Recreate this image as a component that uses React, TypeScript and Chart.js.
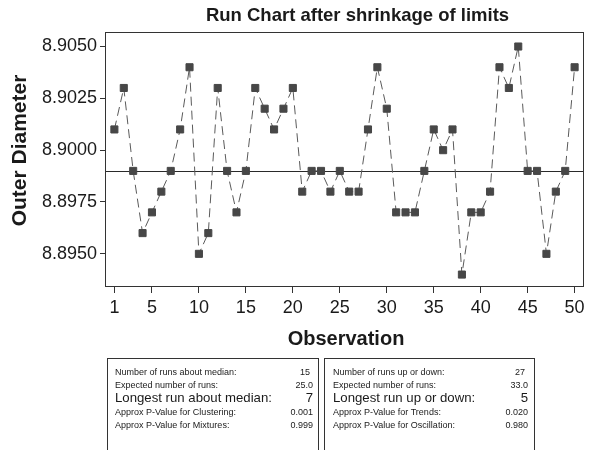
import React, { useEffect, useRef } from "react";
import { Chart, registerables } from "chart.js";

Chart.register(...registerables);

const TITLE = "Run Chart after shrinkage of limits";
const X_TITLE = "Observation";
const Y_TITLE = "Outer Diameter";

const diameters = [
  8.901, 8.903, 8.899, 8.896, 8.897, 8.898, 8.899, 8.901, 8.904, 8.895,
  8.896, 8.903, 8.899, 8.897, 8.899, 8.903, 8.902, 8.901, 8.902, 8.903,
  8.898, 8.899, 8.899, 8.898, 8.899, 8.898, 8.898, 8.901, 8.904, 8.902,
  8.897, 8.897, 8.897, 8.899, 8.901, 8.9, 8.901, 8.894, 8.897, 8.897,
  8.898, 8.904, 8.903, 8.905, 8.899, 8.899, 8.895, 8.898, 8.899, 8.904,
];
const MEDIAN = 8.899;

const xTicks = [1, 5, 10, 15, 20, 25, 30, 35, 40, 45, 50];
const yTicks = [8.895, 8.8975, 8.9, 8.9025, 8.905];
const X_MIN = 0;
const X_MAX = 51;
const Y_MIN = 8.8934;
const Y_MAX = 8.9057;

const leftLabels = [
  "Number of runs about median:",
  "Expected number of runs:",
  "Longest run about median:",
  "Approx P-Value for Clustering:",
  "Approx P-Value for Mixtures:",
];
const leftValues = ["15", "25.0", "7", "0.001", "0.999"];
const rightLabels = [
  "Number of runs up or down:",
  "Expected number of runs:",
  "Longest run up or down:",
  "Approx P-Value for Trends:",
  "Approx P-Value for Oscillation:",
];
const rightValues = ["27", "33.0", "5", "0.020", "0.980"];

const FONT = '"Liberation Sans", Arial, Helvetica, sans-serif';

const decorPlugin = {
  id: "decor",
  beforeDatasetsDraw(chart: any) {
    const { ctx, chartArea: a, scales } = chart;
    const y = Math.round(scales.y.getPixelForValue(MEDIAN)) + 0.5;
    ctx.save();
    ctx.strokeStyle = "#2a2a2a";
    ctx.lineWidth = 1;
    ctx.setLineDash([]);
    ctx.beginPath();
    ctx.moveTo(a.left, y);
    ctx.lineTo(a.right, y);
    ctx.stroke();
    ctx.restore();
  },
  afterDraw(chart: any) {
    const { ctx, chartArea: a } = chart;
    ctx.save();
    ctx.strokeStyle = "#333";
    ctx.lineWidth = 1;
    ctx.setLineDash([]);
    ctx.strokeRect(a.left + 0.5, a.top + 0.5, a.right - a.left - 1, a.bottom - a.top - 1);

    ctx.fillStyle = "#1a1a1a";
    ctx.textBaseline = "alphabetic";
    ctx.textAlign = "center";
    ctx.font = `bold 18.5px ${FONT}`;
    ctx.fillText(TITLE, 357.5, 21);

    ctx.font = `bold 20px ${FONT}`;
    ctx.fillText(X_TITLE, 346, 345);

    ctx.translate(26, 150.5);
    ctx.rotate(-Math.PI / 2);
    ctx.font = `bold 21px ${FONT}`;
    ctx.fillText(Y_TITLE, 0, 0);
    ctx.restore();
  },
};

function StatBox(props: { left: number; width: number; labels: string[]; values: string[]; textLeft: number; valueRight: number }) {
  const rowCenters = [14, 27.3, 40.3, 53.7, 67];
  return (
    <div
      style={{
        position: "absolute",
        left: props.left,
        top: 358,
        width: props.width,
        height: 110,
        boxSizing: "border-box",
        border: "1px solid #333",
        fontFamily: FONT,
        color: "#1a1a1a",
      }}
    >
      {props.labels.map((lab, i) => {
        const big = i === 2;
        const size = big ? 13.2 : 9;
        const top = rowCenters[i] - 1 - 8;
        return (
          <React.Fragment key={i}>
            <div
              style={{
                position: "absolute",
                left: props.textLeft,
                top,
                height: 16,
                lineHeight: "16px",
                fontSize: size,
                whiteSpace: "nowrap",
              }}
            >
              {lab}
            </div>
            <div
              style={{
                position: "absolute",
                right: props.valueRight + (i === 0 ? 3 : 0),
                top,
                height: 16,
                lineHeight: "16px",
                fontSize: size,
                whiteSpace: "nowrap",
                textAlign: "right",
              }}
            >
              {props.values[i]}
            </div>
          </React.Fragment>
        );
      })}
    </div>
  );
}

export default function App() {
  const canvasRef = useRef<HTMLCanvasElement | null>(null);

  useEffect(() => {
    const canvas = canvasRef.current;
    if (!canvas) return;
    const chart = new Chart(canvas, {
      type: "line",
      data: {
        datasets: [
          {
            data: diameters.map((y, i) => ({ x: i + 1, y })),
            borderColor: "#5a5a5a",
            borderWidth: 1,
            borderDash: [9, 5],
            pointStyle: "rect",
            pointRadius: 5,
            pointBorderWidth: 1,
            pointBackgroundColor: "#474747",
            pointBorderColor: "#474747",
            fill: false,
            tension: 0,
          },
        ],
      },
      options: {
        responsive: false,
        animation: false,
        devicePixelRatio: 1,
        layout: { padding: { left: 0, top: 32, right: 8, bottom: 123 } },
        plugins: {
          legend: { display: false },
          tooltip: { enabled: false },
          title: { display: false },
        },
        scales: {
          x: {
            type: "linear",
            min: X_MIN,
            max: X_MAX,
            afterBuildTicks: (scale: any) => {
              scale.ticks = xTicks.map((v) => ({ value: v }));
            },
            afterFit: (scale: any) => {
              scale.height = 40;
            },
            ticks: {
              autoSkip: false,
              maxRotation: 0,
              padding: 4,
              color: "#1a1a1a",
              font: { family: FONT, size: 18 },
              callback: (v: any) => String(v),
            },
            grid: { drawOnChartArea: false, drawTicks: true, tickLength: 6, color: "#333" },
            border: { display: false },
          },
          y: {
            type: "linear",
            min: Y_MIN,
            max: Y_MAX,
            afterBuildTicks: (scale: any) => {
              scale.ticks = yTicks.map((v) => ({ value: v }));
            },
            afterFit: (scale: any) => {
              scale.width = 105;
            },
            ticks: {
              autoSkip: false,
              padding: 3,
              color: "#1a1a1a",
              font: { family: FONT, size: 18 },
              callback: (v: any) => Number(v).toFixed(4),
            },
            grid: { drawOnChartArea: false, drawTicks: true, tickLength: 5, color: "#333" },
            border: { display: false },
          },
        },
      },
      plugins: [decorPlugin],
    } as any);
    return () => chart.destroy();
  }, []);

  return (
    <div
      style={{
        position: "fixed",
        left: 0,
        top: 0,
        width: 592,
        height: 450,
        overflow: "hidden",
        background: "#fff",
      }}
    >
      <canvas ref={canvasRef} width={592} height={450} style={{ position: "absolute", left: 0, top: 0, width: 592, height: 450 }} />
      <StatBox left={107} width={212} labels={leftLabels} values={leftValues} textLeft={7} valueRight={5} />
      <StatBox left={324} width={211} labels={rightLabels} values={rightValues} textLeft={8} valueRight={6} />
    </div>
  );
}
